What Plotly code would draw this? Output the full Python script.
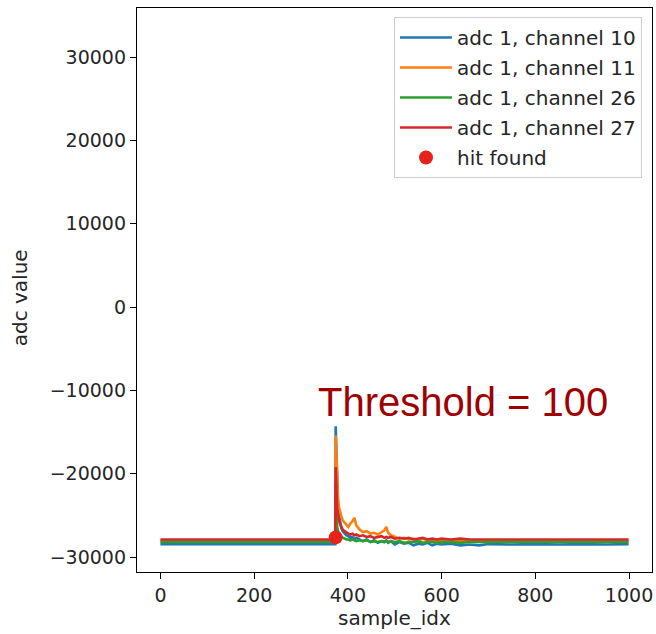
import plotly.graph_objects as go

# ---- data ----
sample_idx = [0, 100, 200, 300, 373, 374, 375, 376, 377, 379, 381, 383, 386, 389, 393, 397, 401,
              405, 410, 414, 418, 425, 432, 440, 448, 456, 464, 472, 478, 482, 486, 492,
              500, 510, 520, 530, 540, 550, 560, 570, 580, 590, 600,
              620, 640, 660, 680, 700, 750, 800, 850, 900, 950, 999]

ch10 = [-28450, -28450, -28450, -28450, -28450,
        -14300, -17000, -20000, -22000, -23800, -25000, -25800, -26500, -26900, -27200, -27400, -27500,
        -27700, -27600, -27900, -27700,
        -27900, -28100, -27900, -28200, -28000, -28300, -28100, -28200, -28000, -28300, -28100,
        -28500, -28200, -28400, -28300, -28600, -28400, -28500, -28300, -28600, -28400, -28500,
        -28400, -28600, -28500, -28600, -28450,
        -28500, -28450, -28500, -28450, -28500, -28450]

ch11 = [-28050, -28050, -28050, -28050, -28050,
        -15400, -17500, -19500, -21200, -23000, -24000, -24600, -25100, -25600, -25900, -26200, -26400,
        -26000, -25700, -25300, -26200,
        -26700, -27000, -26900, -27200, -27100, -27300, -27000, -26800, -26400, -27100, -27400,
        -27600, -27800, -27700, -27900, -27800, -28000, -27800, -28000, -27900, -28100, -28000,
        -28000, -28100, -28000, -28100, -28050,
        -28050, -28100, -28050, -28050, -28100, -28050]

ch26 = [-28200, -28200, -28200, -28200, -28200,
        -21000, -24000, -25500, -26300, -26900, -27200, -27400, -27600, -27700, -27800, -27900, -27900,
        -28000, -27900, -28000, -28100,
        -28000, -28100, -28000, -28200, -28100, -28200, -28100, -28200, -28100, -28200, -28100,
        -28200, -28100, -28300, -28200, -28200, -28100, -28300, -28200, -28200, -28300, -28200,
        -28200, -28300, -28200, -28200, -28200,
        -28200, -28200, -28200, -28200, -28200, -28200]

ch27 = [-27900, -27900, -27900, -27900, -27900,
        -19200, -21500, -23000, -24000, -25000, -25600, -26000, -26400, -26700, -26900, -27100, -27200,
        -27300, -27200, -27400, -27300,
        -27500, -27400, -27600, -27500, -27700, -27600, -27500, -27700, -27600, -27700, -27600,
        -27800, -27700, -27800, -27700, -27900, -27800, -27700, -27900, -27800, -27900, -27800,
        -27900, -27800, -27900, -27900, -27900,
        -27900, -27900, -27900, -27900, -27900, -27900]

hit_x = [374]
hit_y = [-27650]

series_names = ["adc 1, channel 10", "adc 1, channel 11", "adc 1, channel 26", "adc 1, channel 27"]
series_vals = [ch10, ch11, ch26, ch27]
series_colors = ["#1f77b4", "#ff7f0e", "#2ca02c", "#d62728"]

x_ticks = [0, 200, 400, 600, 800, 1000]
x_ticktext = ["0", "200", "400", "600", "800", "1000"]
y_ticks = [-30000, -20000, -10000, 0, 10000, 20000, 30000]
y_ticktext = ["\u221230000", "\u221220000", "\u221210000", "0", "10000", "20000", "30000"]

fig = go.Figure()
for i, (name, vals, col) in enumerate(zip(series_names, series_vals, series_colors)):
    fig.add_trace(go.Scatter(x=sample_idx, y=vals, mode="lines", name=name,
                             line=dict(color=col, width=2.6), legendgroup=str(i)))
fig.add_trace(go.Scatter(x=hit_x, y=hit_y, mode="markers", name="hit found",
                         marker=dict(color="#e5231b", size=14), legendgroup="hit"))

font_family = "DejaVu Sans"
txt_color = "#262626"
axis_common = dict(showline=True, linecolor="black", linewidth=1.3, mirror=True,
                   ticks="outside", ticklen=6, tickwidth=1.3, tickcolor="black",
                   showgrid=False, zeroline=False,
                   tickfont=dict(family=font_family, size=19, color=txt_color))

fig.update_layout(
    width=656, height=634,
    margin=dict(l=137, r=4, t=8, b=62),
    paper_bgcolor="white", plot_bgcolor="white",
    showlegend=True,
    legend=dict(x=0.9806, y=0.984, xanchor="right", yanchor="top",
                bgcolor="rgba(255,255,255,0.8)", bordercolor="#cccccc", borderwidth=1,
                font=dict(family=font_family, size=20, color=txt_color),
                tracegroupgap=1, itemwidth=52),
    xaxis=dict(range=[-50, 1049], tickvals=x_ticks, ticktext=x_ticktext,
               title=dict(text="sample_idx", font=dict(family=font_family, size=20, color=txt_color), standoff=4),
               **axis_common),
    yaxis=dict(range=[-31800, 35880], tickvals=y_ticks, ticktext=y_ticktext,
               **axis_common),
)

fig.add_annotation(text="adc value", xref="paper", yref="paper",
                   x=-0.2272, y=0.487, xanchor="center", yanchor="middle", textangle=-90,
                   showarrow=False, font=dict(family=font_family, size=20, color=txt_color))

fig.add_annotation(text="Threshold = 100", xref="paper", yref="paper",
                   x=0.633, y=0.301, xanchor="center", yanchor="middle", showarrow=False,
                   font=dict(family="Liberation Sans", size=40, color="#a00000"))

fig.write_html("out.html")
